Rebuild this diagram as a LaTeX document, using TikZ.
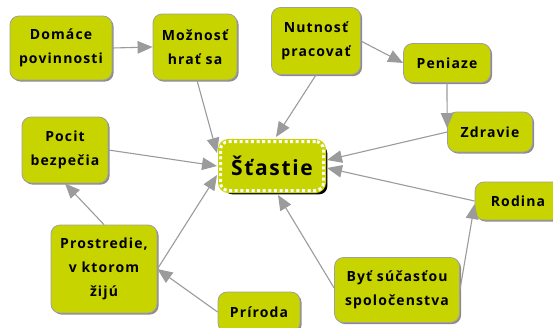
\documentclass[tikz,border=0pt]{standalone}
\usepackage{fontspec}
\setmainfont{Open Sans}[LetterSpace=8]
\usetikzlibrary{arrows.meta,shadows,calc}
\definecolor{leaf}{RGB}{200,212,0}
\definecolor{wire}{RGB}{155,155,155}

\begin{document}
\begin{tikzpicture}[x=1pt, y=-1pt,
  font=\bfseries\fontsize{14}{24}\selectfont,
  >={Triangle[length=15pt,width=12.5pt]},
  topic/.style={draw=gray!75, line width=0.8pt, fill=leaf, rounded corners=9pt,
    align=center, inner sep=0pt,
    drop shadow={shadow xshift=1.6pt, shadow yshift=-1.6pt, fill=black!45, opacity=1}},
  core/.style={draw=leaf, line width=5pt, fill=leaf, rounded corners=8pt,
    minimum width=103pt, minimum height=49pt, inner sep=0pt,
    font=\bfseries\fontsize{21}{24}\selectfont,
    drop shadow={shadow xshift=3.8pt, shadow yshift=-3.8pt, fill=black, opacity=1},
    postaction={draw=white, line width=3pt, dash pattern=on 3pt off 2.6pt}},
  link/.style={draw=wire, line width=1.1pt, ->}
]
  \useasboundingbox (0,0) rectangle (553,327);

  % centre
  \node[core] (stastie) at (272,166) {Šťastie};

  % upper row
  \node[topic, minimum width=102pt, minimum height=64pt] (domace) at (61,48) {Domáce\\povinnosti};
  \node[topic, minimum width=84pt, minimum height=66pt] (moznost) at (195,47) {Možnosť\\hrať sa};
  \node[topic, minimum width=89pt, minimum height=67pt] (nutnost) at (316,41) {Nutnosť\\pracovať};
  \node[topic, minimum width=87pt, minimum height=39pt] (peniaze) at (447,63) {Peniaze};
  \node[topic, minimum width=85pt, minimum height=40pt] (zdravie) at (490,132) {Zdravie};

  % left and lower part
  \node[topic, minimum width=86pt, minimum height=66pt] (pocit) at (65,150) {Pocit\\bezpečia};
  \node[topic, minimum width=106pt, minimum height=88pt] (prostredie) at (104,269) {Prostredie,\\v ktorom\\žijú};
  \node[topic, minimum width=82pt, minimum height=40pt] (priroda) at (259,312) {Príroda};
  \node[topic, minimum width=125pt, minimum height=65pt] (spolocenstvo) at (397,290) {Byť súčasťou\\spoločenstva};
  \node[topic, minimum width=86pt, minimum height=38pt] (rodina) at (518,201) {Rodina};

  % connectors
  \draw[link] (domace.east) -- (moznost.west);
  \draw[link] ($(moznost.south)+(2,0)$) -- ($(stastie.west)+(-1,-13)$);
  \draw[link] (nutnost.south) -- ($(stastie.north)+(4,-2)$);
  \draw[link] (nutnost.east) -- (peniaze.west);
  \draw[link] (peniaze.south) -- ($(zdravie.west)+(0,-4)$);
  \draw[link] (zdravie.west) -- ($(stastie.east)+(1,-6)$);
  \draw[link] (rodina.west) -- ($(stastie.east)+(1,2)$);
  \draw[link] ($(spolocenstvo.west)+(0,-2)$) -- ($(stastie.south)+(6,2)$);
  \draw[link] (spolocenstvo.east) -- ($(rodina.west)+(0,3)$);
  \draw[link] (pocit.east) -- ($(stastie.west)+(-1,0)$);
  \draw[link] (prostredie.east) -- ($(stastie.west)+(-1,9)$);
  \draw[link] (prostredie.north) -- (pocit.south);
  \draw[link] (priroda.west) -- (prostredie.east);
\end{tikzpicture}
\end{document}
